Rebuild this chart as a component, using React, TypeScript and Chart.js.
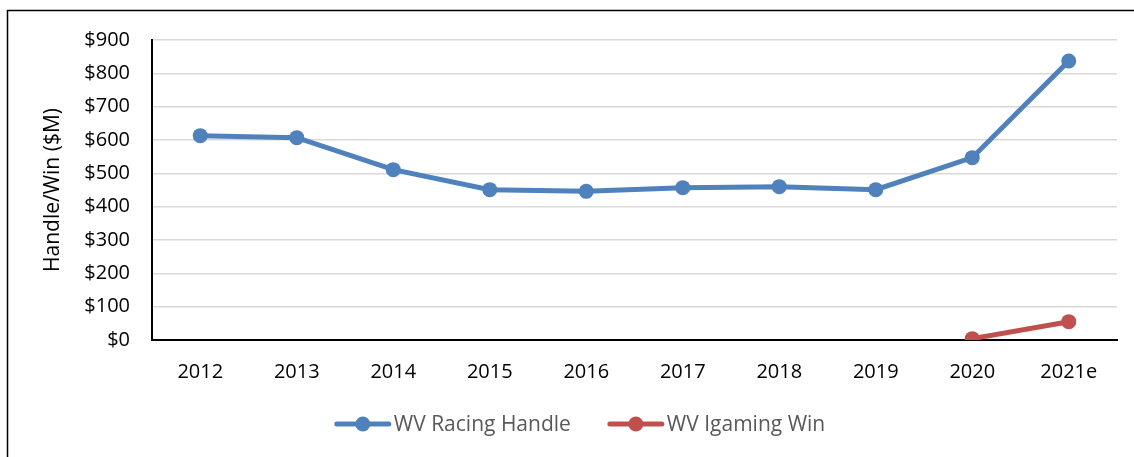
import React, { useEffect, useRef } from "react";
import { Chart, registerables } from "chart.js";

Chart.register(...registerables);

const categories = ["2012", "2013", "2014", "2015", "2016", "2017", "2018", "2019", "2020", "2021e"];
const racingHandle = [613, 607, 511, 451, 446, 457, 460, 451, 547, 837];
const igamingWin = [null, null, null, null, null, null, null, null, 4, 55];
const seriesNames = ["WV Racing Handle", "WV Igaming Win"];
const seriesColors = ["#4F81BD", "#C0504D"];

const FONT = "'Open Sans', 'Liberation Sans', sans-serif";

const framePlugin = {
  id: "frame",
  afterDraw(chart: any) {
    const ctx = chart.ctx;
    ctx.save();
    ctx.strokeStyle = "#000";
    ctx.lineWidth = 1.5;
    ctx.beginPath();
    ctx.moveTo(7.5, chart.height + 5);
    ctx.lineTo(7.5, 10.5);
    ctx.lineTo(chart.width + 5, 10.5);
    ctx.stroke();
    ctx.restore();
  },
};

const legendPlugin = {
  id: "customLegend",
  afterDraw(chart: any) {
    const ctx = chart.ctx;
    ctx.save();
    ctx.font = `21px ${FONT}`;
    ctx.textBaseline = "middle";
    const lineW = 56;
    const gap = 3;
    const spacing = 37;
    const widths = seriesNames.map((n) => ctx.measureText(n).width);
    const total = widths.reduce((a, w) => a + lineW + gap + w, 0) + spacing;
    let x = 580 - total / 2;
    const y = 424;
    seriesNames.forEach((name, i) => {
      ctx.strokeStyle = seriesColors[i];
      ctx.lineWidth = 5;
      ctx.lineCap = "round";
      ctx.beginPath();
      ctx.moveTo(x + 2, y);
      ctx.lineTo(x + lineW - 2, y);
      ctx.stroke();
      ctx.fillStyle = seriesColors[i];
      ctx.beginPath();
      ctx.arc(x + lineW / 2, y, 7.5, 0, Math.PI * 2);
      ctx.fill();
      ctx.fillStyle = "#595959";
      ctx.fillText(name, x + lineW + gap, y + 1);
      x += lineW + gap + widths[i] + spacing;
    });
    ctx.restore();
  },
};

export default function App() {
  const ref = useRef<HTMLCanvasElement>(null);
  useEffect(() => {
    if (!ref.current) return;
    const chart = new Chart(ref.current, {
      type: "line",
      data: {
        labels: categories,
        datasets: [
          {
            label: seriesNames[0],
            data: racingHandle,
            borderColor: seriesColors[0],
            backgroundColor: seriesColors[0],
            borderWidth: 5,
            pointRadius: 7.5,
            pointBorderWidth: 0,
            pointBackgroundColor: seriesColors[0],
            tension: 0,
          },
          {
            label: seriesNames[1],
            data: igamingWin,
            borderColor: seriesColors[1],
            backgroundColor: seriesColors[1],
            borderWidth: 5,
            pointRadius: 7.5,
            pointBorderWidth: 0,
            pointBackgroundColor: seriesColors[1],
            tension: 0,
          },
        ],
      },
      options: {
        animation: false,
        responsive: false,
        maintainAspectRatio: false,
        layout: { padding: { left: 30, top: 40, right: 17, bottom: 0 } },
        plugins: { legend: { display: false }, tooltip: { enabled: false } },
        scales: {
          x: {
            offset: true,
            grid: { display: false, drawTicks: false },
            border: { color: "#000", width: 2 },
            ticks: { color: "#000", font: { family: FONT, size: 20 }, padding: 20, maxRotation: 0 },
            afterFit(scale: any) {
              scale.height = 117;
            },
          },
          y: {
            min: 0,
            max: 900,
            grid: { color: "#D9D9D9", lineWidth: 1.5, drawTicks: false },
            border: { color: "#000", width: 2 },
            ticks: {
              stepSize: 100,
              color: "#000",
              font: { family: FONT, size: 20 },
              padding: 22,
              callback: (v: any) => "$" + v,
            },
            title: {
              display: true,
              text: "Handle/Win ($M)",
              color: "#000",
              font: { family: FONT, size: 21 },
              padding: { top: 10, bottom: 0 },
            },
            afterFit(scale: any) {
              scale.width = 122;
            },
          },
        },
      },
      plugins: [framePlugin, legendPlugin],
    });
    return () => chart.destroy();
  }, []);
  return (
    <div style={{ position: "absolute", left: 0, top: 0, width: 1134, height: 457, background: "#fff" }}>
      <canvas ref={ref} width={1134} height={457} style={{ display: "block" }} />
    </div>
  );
}
